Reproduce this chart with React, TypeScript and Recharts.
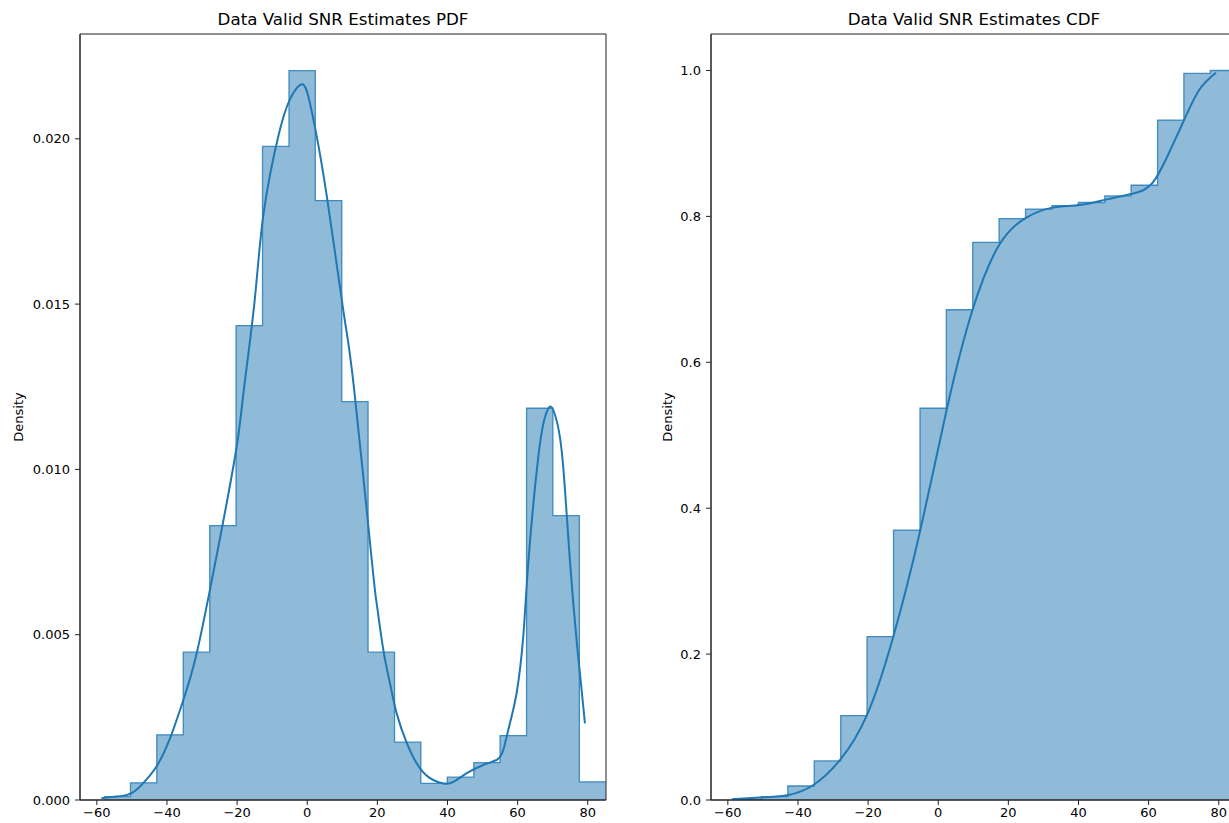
import { ComposedChart, Area, Line, XAxis, YAxis, Label, ReferenceArea } from 'recharts'

// histogram bin edges (SNR, dB)
const binEdges = [-57.9, -50.4, -42.9, -35.35, -27.8, -20.3, -12.75, -5.2, 2.3, 9.85, 17.35, 24.9, 32.4, 39.95, 47.5, 55.0, 62.55, 70.05, 77.6, 85.15]

const pdfBins = [0.0001, 0.00052, 0.00197, 0.00447, 0.0083, 0.01435, 0.01977, 0.02206, 0.01813, 0.01205, 0.00447, 0.00175, 0.0005, 0.00069, 0.00113, 0.00195, 0.01185, 0.0086, 0.00055]
const cdfBins = [0.0013, 0.0045, 0.0192, 0.0535, 0.1157, 0.224, 0.37, 0.537, 0.672, 0.7645, 0.797, 0.81, 0.8148, 0.819, 0.828, 0.8427, 0.932, 0.9959, 1.0]

// kde curves
const pdfKdeX = [-58.7, -55, -50.2, -46, -42.5, -39, -35.4, -31.6, -27.3, -24, -20.1, -18.2, -15, -12.5, -8.2, -4.9, -2.0, 0, 2.3, 5.6, 10.4, 13.4, 18.4, 19.8, 21.7, 23.6, 25.5, 28.4, 31.2, 34.5, 38.8, 41.7, 45.5, 50.2, 54.0, 55.9, 57.8, 59.7, 61.6, 63.1, 65.7, 67.6, 69.5, 71.3, 72.9, 74.9, 76.9, 79.2]
const pdfKdeY = [0.00005, 0.0001, 0.0002, 0.0006, 0.0011, 0.0019, 0.003, 0.0044, 0.0066, 0.0084, 0.0107, 0.0123, 0.0151, 0.0177, 0.0201, 0.0212, 0.02163, 0.0214, 0.0203, 0.01825, 0.01473, 0.0124, 0.00726, 0.00595, 0.00454, 0.00353, 0.00262, 0.00172, 0.00111, 0.0007, 0.0005, 0.00055, 0.00081, 0.00106, 0.00121, 0.00151, 0.00232, 0.00323, 0.00494, 0.00726, 0.0102, 0.0115, 0.0119, 0.0114, 0.0102, 0.00726, 0.00474, 0.00232]

const cdfKdeX = [-58.9, -49.8, -42.7, -35.6, -28.0, -20.3, -12.8, -5.1, 2.5, 9.8, 17.4, 25.0, 32.6, 40.2, 47.8, 55.4, 61.1, 65.9, 70.2, 74.5, 79.2]
const cdfKdeY = [0.001, 0.0037, 0.0069, 0.0206, 0.0549, 0.1166, 0.224, 0.37, 0.537, 0.672, 0.761, 0.798, 0.812, 0.8155, 0.823, 0.831, 0.846, 0.888, 0.933, 0.974, 0.997]

const xTicks = [-60, -40, -20, 0, 20, 40, 60, 80]
const pdfTicks = [0, 0.005, 0.01, 0.015, 0.02]
const cdfTicks = [0, 0.2, 0.4, 0.6, 0.8, 1.0]

const X_DOMAIN: [number, number] = [-64.8, 85.2]
const C0 = '#1f77b4'
const FONT = '"DejaVu Sans", Verdana, sans-serif'
const tickStyle = { fill: '#000', fontSize: 13, fontFamily: FONT }

const stepRows = (vals: number[]) =>
    binEdges.map((x, i) => ({ x, y: vals[Math.min(i, vals.length - 1)] }))
const kdeRows = (xs: number[], ys: number[]) => xs.map((x, i) => ({ x, y: ys[i] }))

const fmtX = (v: number) => String(v).replace('-', '\u2212')

function Panel({ title, steps, kde, yMax, yTicks, fmtY, labelX }: any) {
    return (
        <div style={{ position: 'relative', width: 620, height: 823 }}>
            <div style={{ position: 'absolute', left: 80, width: 526, top: 9, lineHeight: '20px', textAlign: 'center', fontFamily: FONT, fontSize: 16.7, color: '#000' }}>
                {title}
            </div>
            <ComposedChart width={620} height={823} margin={{ top: 34, right: 14, bottom: 0, left: 0 }}>
                <XAxis
                    dataKey="x"
                    type="number"
                    domain={X_DOMAIN}
                    allowDataOverflow
                    ticks={xTicks}
                    tickFormatter={fmtX}
                    height={23}
                    tickSize={5}
                    tickMargin={3}
                    stroke="#222"
                    tick={tickStyle}
                />
                <YAxis
                    type="number"
                    domain={[0, yMax]}
                    allowDataOverflow
                    ticks={yTicks}
                    tickFormatter={fmtY}
                    width={80}
                    tickSize={5}
                    tickMargin={5}
                    stroke="#222"
                    tick={tickStyle}
                    label={
                        <Label
                            content={() => (
                                <text x={labelX} y={417} transform={`rotate(-90 ${labelX} 417)`} textAnchor="middle" dominantBaseline="central" fontSize={13} fontFamily={FONT} fill="#000">
                                    Density
                                </text>
                            )}
                        />
                    }
                />
                <Area
                    data={steps}
                    dataKey="y"
                    type="stepAfter"
                    fill={C0}
                    fillOpacity={0.5}
                    stroke={C0}
                    strokeOpacity={0.8}
                    strokeWidth={1.3}
                    isAnimationActive={false}
                    dot={false}
                    activeDot={false}
                />
                <Line
                    data={kde}
                    dataKey="y"
                    type="natural"
                    stroke={C0}
                    strokeWidth={2}
                    dot={false}
                    activeDot={false}
                    isAnimationActive={false}
                />
                {/* axes frame */}
                <ReferenceArea
                    x1={X_DOMAIN[0]}
                    x2={X_DOMAIN[1]}
                    y1={0}
                    y2={yMax}
                    fill="none"
                    stroke="#222"
                    strokeWidth={1}
                    ifOverflow="visible"
                />
            </ComposedChart>
        </div>
    )
}

export default function App() {
    return (
        <div style={{ position: 'absolute', left: 0, top: 0, width: 1229, height: 823, overflow: 'hidden', background: '#fff' }}>
            <div style={{ position: 'absolute', left: 0, top: 0 }}>
                <Panel
                    title="Data Valid SNR Estimates PDF"
                    steps={stepRows(pdfBins)}
                    kde={kdeRows(pdfKdeX, pdfKdeY)}
                    yMax={0.02317}
                    yTicks={pdfTicks}
                    fmtY={(v: number) => v.toFixed(3)}
                    labelX={18}
                />
            </div>
            <div style={{ position: 'absolute', left: 631, top: 0 }}>
                <Panel
                    title="Data Valid SNR Estimates CDF"
                    steps={stepRows(cdfBins)}
                    kde={kdeRows(cdfKdeX, cdfKdeY)}
                    yMax={1.05}
                    yTicks={cdfTicks}
                    fmtY={(v: number) => v.toFixed(1)}
                    labelX={36}
                />
            </div>
        </div>
    )
}
